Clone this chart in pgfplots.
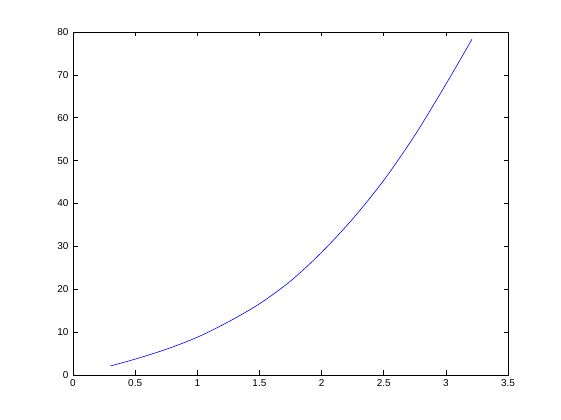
\documentclass[border=0pt]{standalone}
\usepackage{pgfplots}
\pgfplotsset{compat=1.18}
\usepackage{fontspec}
\setmainfont{Liberation Sans}
\begin{document}
\begin{tikzpicture}
\begin{axis}[
  scale only axis,
  width=435pt, height=343pt,
  xmin=0, xmax=3.5, ymin=0, ymax=80,
  xtick={0,0.5,...,3.5},
  ytick={0,10,...,80},
  tick align=inside,
  major tick length=4.5pt,
  axis line style={black, line width=0.6pt},
  every tick/.style={black, line width=0.6pt},
  tick label style={font=\fontsize{10}{12}\selectfont},
  /pgf/number format/assume math mode=true,
  xticklabel style={yshift=-1pt},
  yticklabel style={xshift=-1pt},
]
\addplot[blue, line width=0.6pt, smooth] coordinates {
(0.30, 2.1)
(0.50, 3.7)
(0.75, 6.0)
(1.00, 8.8)
(1.25, 12.4)
(1.50, 16.6)
(1.75, 21.9)
(2.00, 28.6)
(2.25, 36.4)
(2.50, 45.4)
(2.75, 55.9)
(3.00, 67.8)
(3.21, 78.3)
};
\end{axis}
\path ([xshift=-73pt,yshift=-45pt]current axis.south west) rectangle ([xshift=53pt,yshift=32pt]current axis.north east);
\end{tikzpicture}
\end{document}
